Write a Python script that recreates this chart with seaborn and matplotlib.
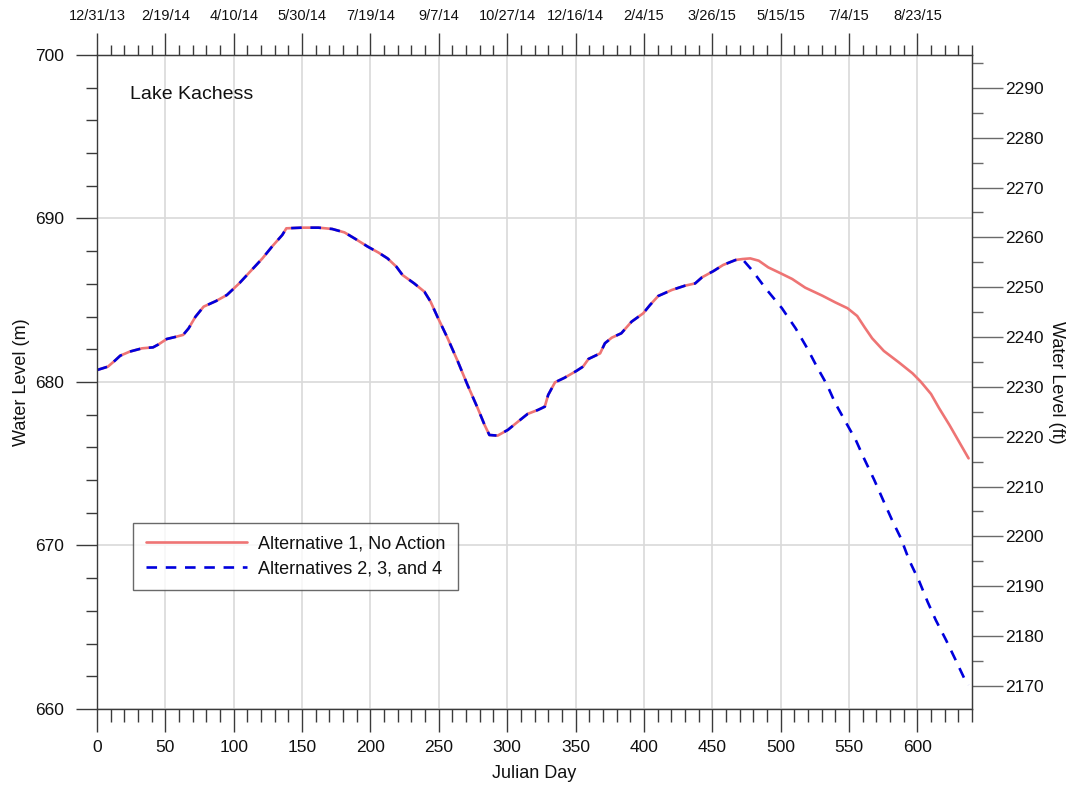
import numpy as np
import pandas as pd
import matplotlib
matplotlib.use("Agg")
import matplotlib.pyplot as plt
from matplotlib.ticker import MultipleLocator, FixedLocator
import seaborn as sns

# ---- data: Lake Kachess water level (m) by Julian day ----
# shared record (both scenarios identical up to ~day 472)
days_common = [0, 8, 13, 17, 24, 33, 41, 45, 51, 57, 63, 67, 72, 78, 87, 95,
               104, 112, 121, 128, 135.5, 138.5, 150, 162, 172, 181, 189, 198,
               206, 212.5, 219, 223.5, 232, 239.5, 244, 249, 256.5, 264, 271,
               278.5, 283.5, 287, 293, 300.5, 308, 315, 322.5, 327.5, 330, 335,
               342, 350.5, 355.5, 359.5, 368, 371.5, 376.5, 383.5, 391, 399.5,
               404.5, 410.5, 420.5, 430, 437.5, 442.5, 451, 458, 467, 472]
level_common = [680.73, 680.94, 681.30, 681.61, 681.86, 682.06, 682.12, 682.30,
                682.63, 682.75, 682.88, 683.28, 683.99, 684.61, 684.95, 685.32,
                686.03, 686.75, 687.56, 688.28, 688.99, 689.40, 689.44, 689.44,
                689.36, 689.15, 688.75, 688.28, 687.91, 687.56, 687.05, 686.54,
                686.03, 685.52, 684.91, 683.99, 682.67, 681.24, 679.82, 678.39,
                677.37, 676.76, 676.72, 677.07, 677.58, 678.05, 678.29, 678.49,
                679.21, 679.98, 680.26, 680.67, 680.94, 681.41, 681.75, 682.37,
                682.71, 682.98, 683.69, 684.20, 684.71, 685.26, 685.63, 685.89,
                686.03, 686.40, 686.79, 687.16, 687.46, 687.52]

# Alternative 1, No Action
days_alt1_tail = [477.8, 484, 491, 500, 508.5, 518, 530.5, 540, 549, 556, 561.5,
                  567, 575.5, 586.5, 596.5, 602.5, 610, 616, 623.5, 630.5, 637.5]
level_alt1_tail = [687.56, 687.42, 687.01, 686.65, 686.30, 685.77, 685.28,
                   684.87, 684.51, 684.04, 683.34, 682.67, 681.90, 681.20,
                   680.53, 680.02, 679.27, 678.39, 677.37, 676.35, 675.33]

# Alternatives 2, 3, and 4
days_alt234_tail = [479, 489, 501, 511, 519.5, 526.5, 534, 540, 547.5, 555, 561,
                    568.5, 575.5, 581.5, 588, 594, 601.5, 607.5, 613.5, 621,
                    628, 635.5, 637.5]
level_alt234_tail = [686.85, 685.73, 684.51, 683.28, 682.06, 680.94, 679.82,
                     678.70, 677.57, 676.45, 675.33, 674.01, 672.68, 671.56,
                     670.44, 669.11, 667.79, 666.56, 665.44, 664.22, 663.00,
                     661.67, 661.47]

scenario_names = ["Alternative 1, No Action", "Alternatives 2, 3, and 4"]

# axis ticks
xticks_day = [0, 50, 100, 150, 200, 250, 300, 350, 400, 450, 500, 550, 600]
xticks_date = ["12/31/13", "2/19/14", "4/10/14", "5/30/14", "7/19/14", "9/7/14",
               "10/27/14", "12/16/14", "2/4/15", "3/26/15", "5/15/15", "7/4/15",
               "8/23/15"]
yticks_m = [660, 670, 680, 690, 700]
yticks_ft = [2170, 2180, 2190, 2200, 2210, 2220, 2230, 2240, 2250, 2260, 2270,
             2280, 2290]
M_TO_FT = 3.28084

# ---- build tidy frame ----
df = pd.concat([
    pd.DataFrame({"day": days_common + days_alt1_tail,
                  "level": level_common + level_alt1_tail,
                  "scenario": scenario_names[0]}),
    pd.DataFrame({"day": days_common + days_alt234_tail,
                  "level": level_common + level_alt234_tail,
                  "scenario": scenario_names[1]}),
], ignore_index=True)

# ---- style ----
sns.set_style("white")
plt.rcParams["font.family"] = ["Liberation Sans", "DejaVu Sans"]
plt.rcParams["axes.unicode_minus"] = False
plt.rcParams["text.color"] = "#111111"
plt.rcParams["axes.labelcolor"] = "#111111"
plt.rcParams["xtick.labelcolor"] = "#111111"
plt.rcParams["ytick.labelcolor"] = "#111111"

INK = "#3a3a3a"
fig = plt.figure(figsize=(10.72, 7.87), dpi=100)
ax = fig.add_axes([97 / 1072, 1 - 709 / 787, 875 / 1072, 654 / 787])

red = "#EE7474"
blue = "#0000DD"
sub1 = df[df.scenario == scenario_names[0]]
sub2 = df[df.scenario == scenario_names[1]]
sns.lineplot(data=sub1, x="day", y="level", color=red, linewidth=1.9,
             sort=False, estimator=None, ax=ax, label=scenario_names[0])
sns.lineplot(data=sub2, x="day", y="level", color=blue, linewidth=1.9,
             linestyle=(0, (4, 3.3)), sort=False, estimator=None, ax=ax,
             label=scenario_names[1])

ax.set_xlim(0, 640)
ax.set_ylim(660, 700)

ax.xaxis.set_major_locator(FixedLocator(xticks_day))
ax.xaxis.set_minor_locator(MultipleLocator(10))
ax.yaxis.set_major_locator(FixedLocator(yticks_m))
ax.yaxis.set_minor_locator(MultipleLocator(2))

ax.grid(True, which="major", color="#d9d9d9", linewidth=1.2)
ax.set_axisbelow(True)

for s in ax.spines.values():
    s.set_color(INK)
    s.set_linewidth(1.0)

ax.tick_params(axis="x", which="major", direction="out", length=16.5, width=1,
               color=INK, labelsize=12.5, pad=6, bottom=True, top=False)
ax.tick_params(axis="x", which="minor", direction="out", length=9.5, width=1,
               color=INK, bottom=True, top=False)
ax.tick_params(axis="y", which="major", direction="out", length=15, width=1,
               color=INK, labelsize=12.5, pad=9, left=True, right=False)
ax.tick_params(axis="y", which="minor", direction="out", length=8, width=1,
               color=INK, left=True, right=False)

ax.set_xlabel("Julian Day", fontsize=13, labelpad=7)
ax.set_ylabel("Water Level (m)", fontsize=13, labelpad=3)

# top axis: calendar dates
top = ax.secondary_xaxis("top")
top.xaxis.set_major_locator(FixedLocator(xticks_day))
top.set_xticklabels(xticks_date)
top.xaxis.set_minor_locator(MultipleLocator(10))
top.tick_params(which="major", direction="out", length=16, width=1, color=INK,
                labelsize=10.5, pad=7, top=True)
top.tick_params(which="minor", direction="out", length=7, width=1, color=INK,
                top=True)
top.spines["top"].set_color(INK)

# right axis: feet
right = ax.secondary_yaxis("right", functions=(lambda m: m * M_TO_FT,
                                               lambda f: f / M_TO_FT))
right.yaxis.set_major_locator(FixedLocator(yticks_ft))
right.yaxis.set_minor_locator(MultipleLocator(5))
right.tick_params(which="major", direction="out", length=22, width=1,
                  color="#6a6a6a", labelsize=12.5, pad=2, right=True)
right.tick_params(which="minor", direction="out", length=8, width=1,
                  color="#6a6a6a", right=True)
right.spines["right"].set_color("#6a6a6a")
right.set_ylabel("Water Level (ft)", fontsize=13, rotation=270, va="bottom",
                 labelpad=3)

ax.text(0.0377, 0.940, "Lake Kachess", transform=ax.transAxes, fontsize=14,
        ha="left", va="center", color="#111111")

leg = ax.legend(loc="upper left", bbox_to_anchor=(0.0411, 0.2844),
                borderaxespad=0, fontsize=13, frameon=True, fancybox=False,
                handlelength=5.6, handletextpad=0.6, labelspacing=0.45,
                borderpad=0.7)
leg.get_frame().set_edgecolor("#444444")
leg.get_frame().set_linewidth(1.0)

fig.savefig("out.png", dpi=100)
